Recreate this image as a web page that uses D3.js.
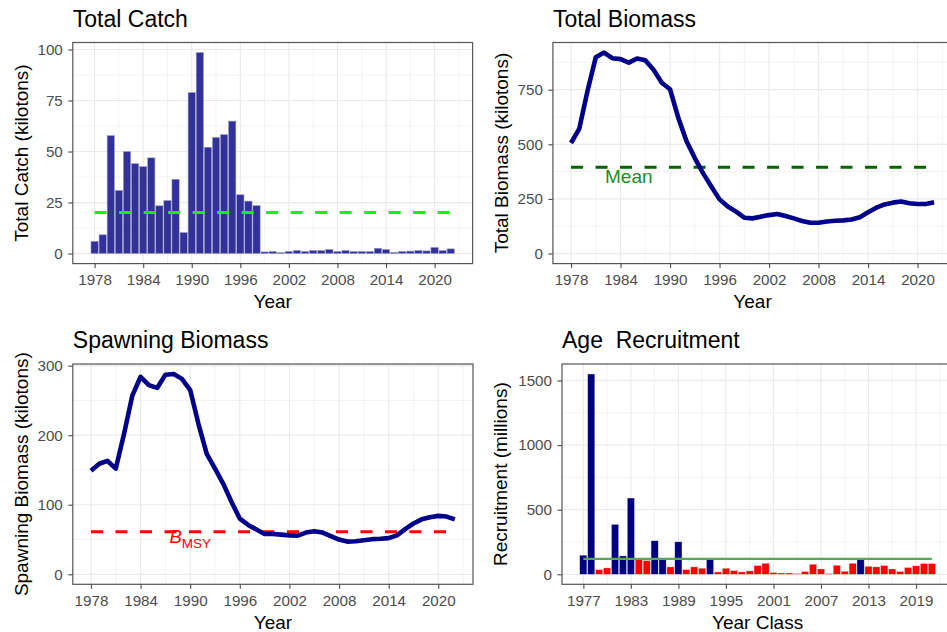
<!DOCTYPE html>
<html>
<head>
<meta charset="utf-8">
<script src="https://cdn.jsdelivr.net/npm/d3@7"></script>
<style>
  body { margin: 0; background: #fff; }
  svg { display: block; font-family: "Liberation Sans", Arial, Helvetica, sans-serif; }
</style>
</head>
<body>
<svg id="chart" width="947" height="632"></svg>
<script>
// ---- data -------------------------------------------------------------
const catchYears = d3.range(1978, 2023);
const totalCatch = [6, 9.2, 57.8, 30.9, 50, 44.1, 42.6, 46.9, 23.4, 26,
  36.4, 10.3, 78.9, 98.5, 52.1, 56.9, 58.3, 64.9, 28.8, 25.7,
  23.5, 0.8, 1, 0.5, 1, 1.5, 1, 1.5, 1.5, 2,
  1, 1.5, 1, 1, 1, 2.6, 2, 0.6, 1, 1.2,
  1.5, 1.3, 3, 1.5, 2.3];

const biomassYears = d3.range(1978, 2023);
const totalBiomass = [506, 572, 745, 899, 920, 894, 890, 874, 893, 885,
  841, 782, 752, 621, 514, 437, 368, 307, 248, 215,
  192, 164, 161, 169, 176, 181, 172, 161, 149, 141,
  141, 147, 150, 152, 156, 166, 189, 210, 225, 233,
  238, 230, 227, 227, 235];
const spawningBiomass = [149, 159, 163, 152, 202, 257, 284, 272, 268, 287,
  288, 281, 265, 216, 173, 152, 130, 104, 80, 71,
  64.5, 58, 58, 57, 56, 55.5, 60, 62, 60, 55,
  50, 47, 47.5, 49, 50.5, 51, 52, 56, 65, 73,
  79, 82, 84, 83, 79];
const bMSY = 61;

const recruitYears = d3.range(1977, 2022);
const recruitment = [148, 1550, 36, 49, 386, 142, 590, 115, 106, 259,
  126, 57, 251, 36, 57, 47, 124, 18, 47, 28,
  18, 26, 67, 85, 13, 10, 10, 5, 21, 78,
  41, 5, 70, 23, 85, 124, 62, 57, 67, 41,
  21, 52, 65, 83, 83];

const yearTicks = [1978, 1984, 1990, 1996, 2002, 2008, 2014, 2020];
const classTicks = [1977, 1983, 1989, 1995, 2001, 2007, 2013, 2019];
const catchTicks = [0, 25, 50, 75, 100];
const biomassTicks = [0, 250, 500, 750];
const spawnTicks = [0, 100, 200, 300];
const recruitTicks = [0, 500, 1000, 1500];

// ---- helpers ----------------------------------------------------------
const svg = d3.select("#chart");
const expand = ([a, b]) => { const p = (b - a) * 0.05; return [a - p, b + p]; };
const minorOf = (ticks, dom) => {
  const s = ticks[1] - ticks[0];
  const m = ticks.map(t => t - s / 2).concat([ticks[ticks.length - 1] + s / 2]);
  return m.filter(v => v > dom[0] && v < dom[1]);
};

let clipId = 0;
function panel(cfg) {
  const { left, top, width, height } = cfg;
  const xd = expand(cfg.xDomain), yd = expand([0, cfg.yMax]);
  const x = d3.scaleLinear().domain(xd).range([left, left + width]);
  const y = d3.scaleLinear().domain(yd).range([top + height, top]);
  const id = "clip" + (clipId++);
  svg.append("clipPath").attr("id", id).append("rect")
    .attr("x", left).attr("y", top).attr("width", width).attr("height", height);

  const grid = svg.append("g").attr("clip-path", `url(#${id})`);
  minorOf(cfg.xTicks, xd).forEach(v => grid.append("line")
    .attr("x1", x(v)).attr("x2", x(v)).attr("y1", top).attr("y2", top + height)
    .attr("stroke", "#EBEBEB").attr("stroke-width", 0.6));
  minorOf(cfg.yTicks, yd).forEach(v => grid.append("line")
    .attr("y1", y(v)).attr("y2", y(v)).attr("x1", left).attr("x2", left + width)
    .attr("stroke", "#EBEBEB").attr("stroke-width", 0.6));
  cfg.xTicks.forEach(v => grid.append("line")
    .attr("x1", x(v)).attr("x2", x(v)).attr("y1", top).attr("y2", top + height)
    .attr("stroke", "#EBEBEB").attr("stroke-width", 1.2));
  cfg.yTicks.forEach(v => grid.append("line")
    .attr("y1", y(v)).attr("y2", y(v)).attr("x1", left).attr("x2", left + width)
    .attr("stroke", "#EBEBEB").attr("stroke-width", 1.2));

  const marks = svg.append("g").attr("clip-path", `url(#${id})`);
  const frame = svg.append("g");

  frame.append("rect").attr("x", left).attr("y", top)
    .attr("width", width).attr("height", height)
    .attr("fill", "none").attr("stroke", "#555").attr("stroke-width", 1.2);

  const xAxis = frame.append("g").attr("transform", `translate(0,${top + height})`)
    .call(d3.axisBottom(x).tickValues(cfg.xTicks).tickFormat(d3.format("d"))
      .tickSizeInner(4.5).tickSizeOuter(0).tickPadding(6.2));
  const yAxis = frame.append("g").attr("transform", `translate(${left},0)`)
    .call(d3.axisLeft(y).tickValues(cfg.yTicks).tickFormat(d3.format("d"))
      .tickSizeInner(4.5).tickSizeOuter(0).tickPadding(5.5));
  [xAxis, yAxis].forEach(a => {
    a.select(".domain").remove();
    a.selectAll(".tick line").attr("stroke", "#555").attr("stroke-width", 1.2);
    a.selectAll(".tick text").attr("fill", "#4D4D4D").attr("font-size", 15.2)
      .attr("font-family", "Liberation Sans, Arial, sans-serif");
  });

  frame.append("text").attr("x", left).attr("y", top - 15.8)
    .attr("font-size", 23).attr("fill", "#000")
    .style("white-space", "pre").text(cfg.title);
  frame.append("text").attr("x", left + width / 2).attr("y", top + height + 44.5)
    .attr("text-anchor", "middle").attr("font-size", 19).attr("fill", "#000")
    .text(cfg.xTitle);
  frame.append("text")
    .attr("transform", `translate(${left - cfg.yTitleGap},${top + height / 2}) rotate(-90)`)
    .attr("text-anchor", "middle").attr("font-size", 19).attr("fill", "#000")
    .text(cfg.yTitle);

  return { x, y, marks, frame };
}

// ---- Total Catch ------------------------------------------------------
{
  const p = panel({ left: 72.8, top: 42.5, width: 399.8, height: 221.1,
    xDomain: [catchYears[0] - 0.45, catchYears[catchYears.length - 1] + 0.45],
    yMax: d3.max(totalCatch), xTicks: yearTicks, yTicks: catchTicks,
    title: "Total Catch", xTitle: "Year", yTitle: "Total Catch (kilotons)", yTitleGap: 45.2 });
  const bw = p.x(0.9) - p.x(0);
  p.marks.selectAll("rect").data(totalCatch).join("rect")
    .attr("x", (d, i) => p.x(catchYears[i]) - bw / 2)
    .attr("width", bw)
    .attr("y", d => p.y(d))
    .attr("height", d => p.y(0) - p.y(d))
    .attr("fill", "#313199").attr("stroke", "#9d9dc6").attr("stroke-width", 0.6);
  const m = d3.mean(totalCatch);
  p.marks.append("line")
    .attr("x1", p.x(catchYears[0])).attr("x2", p.x(catchYears[catchYears.length - 1]))
    .attr("y1", p.y(m)).attr("y2", p.y(m))
    .attr("stroke", "#00FF00").attr("stroke-width", 3).attr("stroke-dasharray", "12 12.5");
}

// ---- Total Biomass ----------------------------------------------------
{
  const p = panel({ left: 552.9, top: 42.5, width: 399.3, height: 221.1,
    xDomain: [biomassYears[0], biomassYears[biomassYears.length - 1]],
    yMax: d3.max(totalBiomass), xTicks: yearTicks, yTicks: biomassTicks,
    title: "Total Biomass", xTitle: "Year", yTitle: "Total Biomass (kilotons)", yTitleGap: 45.2 });
  const m = d3.mean(totalBiomass);
  p.marks.append("line")
    .attr("x1", p.x(biomassYears[0])).attr("x2", p.x(biomassYears[biomassYears.length - 1]))
    .attr("y1", p.y(m)).attr("y2", p.y(m))
    .attr("stroke", "#006400").attr("stroke-width", 3).attr("stroke-dasharray", "12 12.5");
  p.marks.append("path")
    .attr("d", d3.line().x((d, i) => p.x(biomassYears[i])).y(d => p.y(d))(totalBiomass))
    .attr("fill", "none").attr("stroke", "#00008B").attr("stroke-width", 4.6)
    .attr("stroke-linejoin", "round");
  p.marks.append("text").attr("x", p.x(1985)).attr("y", p.y(m) + 16)
    .attr("text-anchor", "middle").attr("font-size", 19).attr("fill", "#228B22")
    .text("Mean");
}

// ---- Spawning Biomass -------------------------------------------------
{
  const p = panel({ left: 72.8, top: 364, width: 400.2, height: 220.3,
    xDomain: [biomassYears[0], biomassYears[biomassYears.length - 1]],
    yMax: d3.max(spawningBiomass), xTicks: yearTicks, yTicks: spawnTicks,
    title: "Spawning Biomass", xTitle: "Year", yTitle: "Spawning Biomass (kilotons)", yTitleGap: 45.2 });
  p.marks.append("line")
    .attr("x1", p.x(biomassYears[0])).attr("x2", p.x(biomassYears[biomassYears.length - 1]))
    .attr("y1", p.y(bMSY)).attr("y2", p.y(bMSY))
    .attr("stroke", "#FF0000").attr("stroke-width", 3).attr("stroke-dasharray", "12 12.5");
  p.marks.append("path")
    .attr("d", d3.line().x((d, i) => p.x(biomassYears[i])).y(d => p.y(d))(spawningBiomass))
    .attr("fill", "none").attr("stroke", "#00008B").attr("stroke-width", 4.6)
    .attr("stroke-linejoin", "round");
  const lab = p.marks.append("text").attr("x", p.x(1990)).attr("y", p.y(bMSY) + 11)
    .attr("text-anchor", "middle").attr("fill", "#FF0000");
  lab.append("tspan").attr("font-size", 18.5).attr("font-style", "italic").text("B");
  lab.append("tspan").attr("font-size", 13.5).attr("dy", 5.5).text("MSY");
}

// ---- Age Recruitment --------------------------------------------------
{
  const p = panel({ left: 562, top: 364, width: 391.2, height: 220.3,
    xDomain: [recruitYears[0] - 0.45, recruitYears[recruitYears.length - 1] + 0.45],
    yMax: d3.max(recruitment), xTicks: classTicks, yTicks: recruitTicks,
    title: "Age  Recruitment", xTitle: "Year Class", yTitle: "Recruitment (millions)", yTitleGap: 54.8 });
  const m = d3.mean(recruitment);
  const bw = p.x(0.9) - p.x(0);
  p.marks.selectAll("rect").data(recruitment).join("rect")
    .attr("x", (d, i) => p.x(recruitYears[i]) - bw / 2)
    .attr("width", bw)
    .attr("y", d => p.y(d))
    .attr("height", d => p.y(0) - p.y(d))
    .attr("fill", d => d >= m ? "#000080" : "#FF0000")
    .attr("stroke", "#d8d8d8").attr("stroke-width", 0.4);
  p.marks.append("line")
    .attr("x1", p.x(recruitYears[0])).attr("x2", p.x(recruitYears[recruitYears.length - 1]))
    .attr("y1", p.y(m)).attr("y2", p.y(m))
    .attr("stroke", "#55A855").attr("stroke-width", 2.4);
}
</script>
</body>
</html>
